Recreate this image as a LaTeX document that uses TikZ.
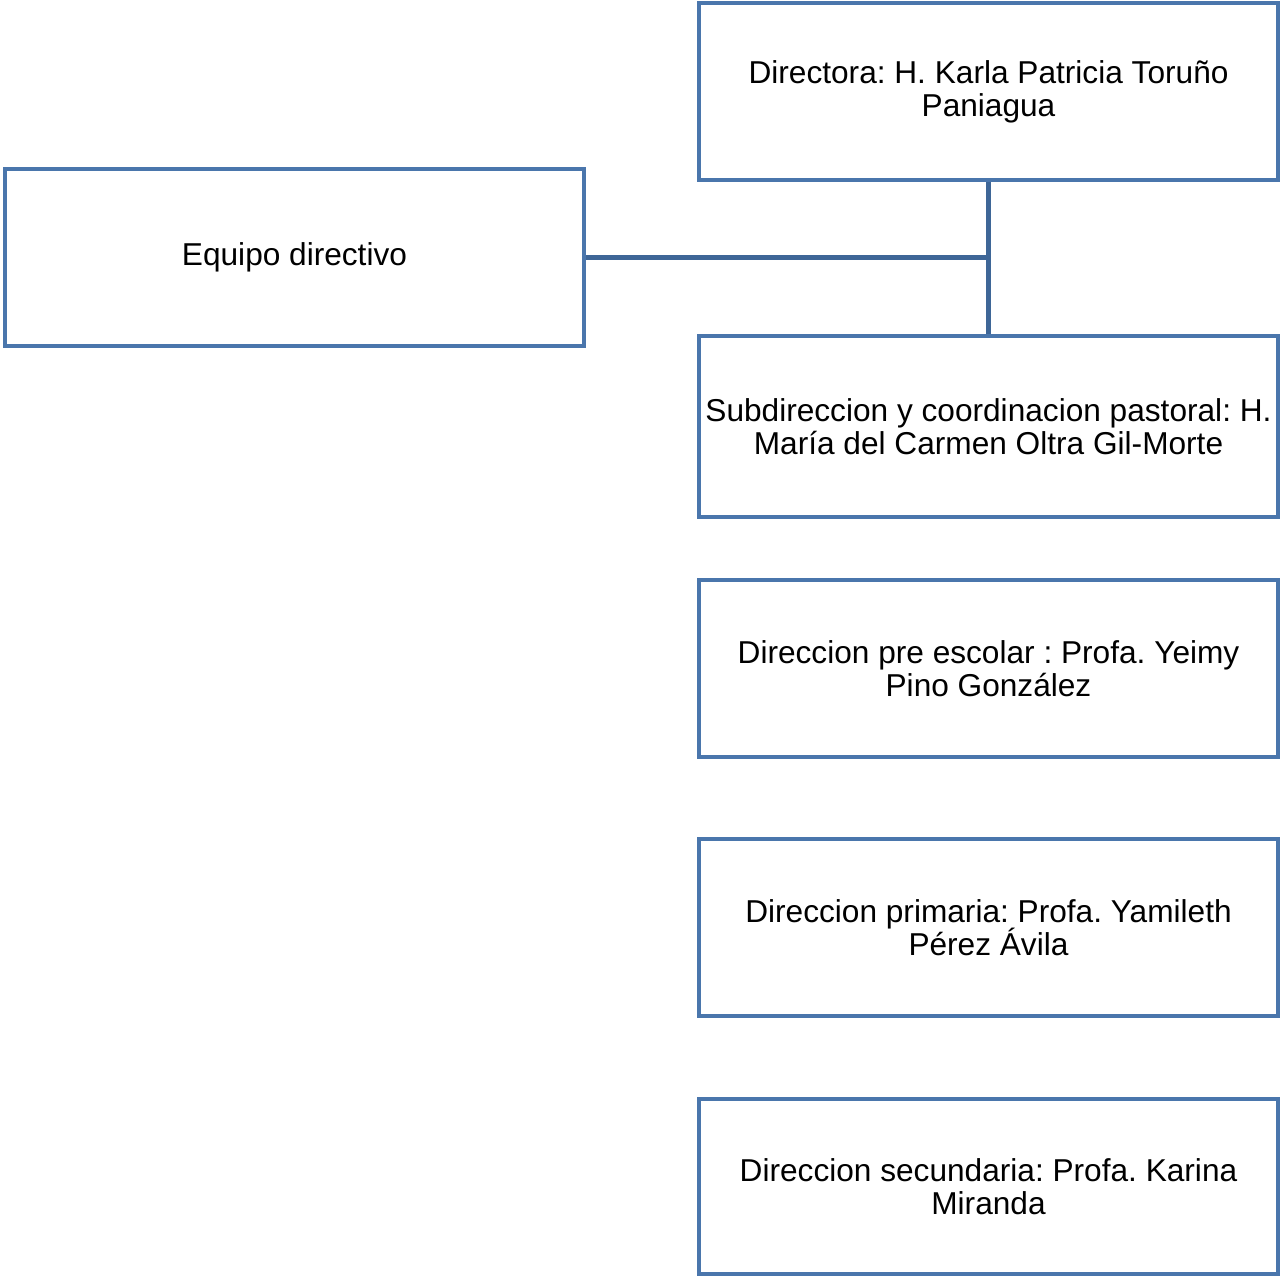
\documentclass[tikz,border=0pt]{standalone}
\usepackage{fontspec}
\setmainfont{Liberation Sans}
\usetikzlibrary{positioning,calc}
\frenchspacing
\definecolor{boxblue}{HTML}{4A76AC}
\definecolor{lineblue}{HTML}{3E6697}
\newcommand{\cargofont}{\fontsize{18}{18.8}\selectfont\setlength{\lineskiplimit}{-10pt}}
\tikzset{
	cargo/.style={draw=boxblue, line width=2.3pt, minimum width=11.58cm, minimum height=3.54cm, align=center, inner sep=2pt, font=\cargofont},
	enlace/.style={draw=lineblue, line width=2.3pt}
}
\begin{document}
\begin{tikzpicture}
	\useasboundingbox (0,0) rectangle (25.6,-25.52);
	\node[cargo] (equipo) at (5.89,-5.15) {Equipo directivo};
	\node[cargo] (dir) at (19.77,-1.83) {Directora: H. Karla Patricia Toruño\\Paniagua};
	\node[cargo, minimum height=3.62cm] (subdir) at (19.77,-8.53) {Subdireccion y coordinacion pastoral: H.\\María del Carmen Oltra Gil-Morte};
	\node[cargo] (pre) at (19.77,-13.37) {Direccion pre escolar : Profa. Yeimy\\Pino González};
	\node[cargo] (prim) at (19.77,-18.55) {Direccion primaria: Profa. Yamileth\\Pérez Ávila};
	\node[cargo, minimum height=3.5cm] (sec) at (19.77,-23.73) {Direccion secundaria: Profa. Karina\\Miranda};
	\draw[enlace] (dir.south) -- (subdir.north);
	\draw[enlace] (equipo.east) -- (equipo.east -| dir.south);
\end{tikzpicture}
\end{document}
